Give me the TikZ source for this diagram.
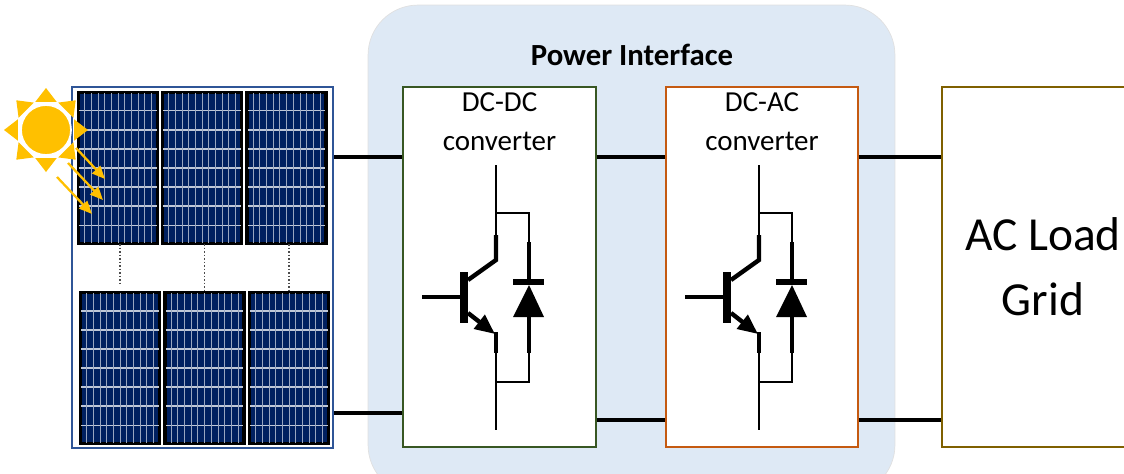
\documentclass[tikz,border=0pt]{standalone}
\usepackage{fontspec}
\setmainfont{Carlito}
\usetikzlibrary{arrows.meta, positioning, calc}
\definecolor{piblue}{RGB}{222,233,245}
\definecolor{frameblue}{RGB}{47,85,151}
\definecolor{cellnavy}{RGB}{0,32,96}
\definecolor{sunyellow}{RGB}{255,192,0}
\definecolor{dcdcgreen}{RGB}{56,87,35}
\definecolor{dcacorange}{RGB}{197,90,17}
\definecolor{loadgold}{RGB}{127,96,0}

% switch symbol: transistor with its free-wheeling diode
\tikzset{
  leg/.style={line width=1.5pt},
  lead/.style={line width=2.5pt},
  igbt/.pic={
    \draw[leg] (0,0) -- (0,70) (0,48) -| (33,77) (33,188) -- (33,217) -- (0,217) (0,188) -- (0,265);
    \draw[lead] (0,70) -- (0,95) -- (-28,115);
    \draw[lead] (33,77) -- (33,117);
    \fill (33,120) -- (48,152) -- (17,152) -- cycle;
    \draw[lead] (33,152) -- (33,188);
    \draw[line width=3.4pt] (17,117) -- (48,117);
    \draw[line width=4.6pt] (-32,107) -- (-32,158);
    \draw[lead] (-74,132) -- (-32,132);
    \draw[lead, -{Triangle[length=0.4cm, width=0.34cm]}] (-28,148) -- (-1,169);
    \draw[lead] (0,167) -- (0,188);
  }
}

\begin{document}
\begin{tikzpicture}[
  x=0.02cm, y=-0.02cm,
  block/.style={draw, line width=0.8pt, fill=white, minimum width=3.86cm, minimum height=7.2cm, inner sep=0pt},
  module/.style={draw=black, line width=1.2pt, fill=cellnavy, minimum width=1.56cm, minimum height=3cm, inner sep=0pt},
  cellgap/.style={white!75!cellnavy, line width=0.6pt},
  busbar/.style={white!60!cellnavy, line width=0.4pt},
  wire/.style={line width=1.8pt},
  linkdots/.style={densely dotted, line width=1pt, black!70},
  sunray/.style={draw=sunyellow, line width=1.3pt, -{Triangle[length=0.26cm, width=0.22cm]}},
  convlabel/.style={inner sep=0pt, align=center, font=\fontsize{16.5}{22}\selectfont}
]
\clip (0,0) rectangle (1124,473);

% power interface background
\node[draw=black!12, fill=piblue, rounded corners=1cm, minimum width=10.54cm, minimum height=9.8cm] (pi) at (631.5,250) {};
\node[font=\bfseries\fontsize{17.5}{21}\selectfont] (pititle) at (632,55) {Power Interface};

% PV array
\node[draw=frameblue, line width=1.2pt, fill=white, minimum width=5.22cm, minimum height=7.22cm] (pv) at (202.5,267.5) {};
\node[module] (m1) at (118,168) {};
\node[module] (m2) at (202,168) {};
\node[module] (m3) at (286.5,168) {};
\node[module] (m4) at (120,368) {};
\node[module] (m5) at (204.5,368) {};
\node[module] (m6) at (289,368) {};
\foreach \i in {1,...,6}{
  \foreach \k in {1,...,7}
    \draw[cellgap] ($(m\i.north west)!\k/8!(m\i.south west)$) -- ($(m\i.north east)!\k/8!(m\i.south east)$);
  \foreach \k in {1,...,11}
    \draw[busbar] ($(m\i.north west)!\k/12!(m\i.north east)$) -- ($(m\i.south west)!\k/12!(m\i.south east)$);
  \draw[black, line width=1.2pt] (m\i.north west) rectangle (m\i.south east);
}
\draw[linkdots] (m4.north |- m1.south) -- ([yshift=0.14cm]m4.north);
\draw[linkdots] (m5.north |- m2.south) -- (m5.north);
\draw[linkdots] (m6.north |- m3.south) -- (m6.north);

% sun
\coordinate (sunc) at (46,130);
\foreach \a in {0,45,...,315}
  \fill[sunyellow] ($(sunc)+(\a-21:30)$) -- ($(sunc)+(\a:42)$) -- ($(sunc)+(\a+21:30)$) -- cycle;
\node[circle, fill=sunyellow, draw=white, line width=1pt, minimum size=1.0cm, inner sep=0pt] (sun) at (sunc) {};
\coordinate (r1a) at (76,148); \coordinate (r1b) at (105,179);
\coordinate (r2a) at (68,163); \coordinate (r2b) at (103,200);
\coordinate (r3a) at (57,177); \coordinate (r3b) at (92,214);
\draw[sunray] (r1a) -- (r1b);
\draw[sunray] (r2a) -- (r2b);
\draw[sunray] (r3a) -- (r3b);

% converters and load
\node[block, draw=dcdcgreen] (dcdc) at (499.5,267) {};
\node[block, draw=dcacorange, minimum width=3.84cm] (dcac) at (762,267) {};
\node[block, draw=loadgold, minimum width=4.04cm, align=center, font=\fontsize{27}{37}\selectfont] (load) at (1043,267) {AC Load\\Grid};
\node[convlabel, below=0.12cm of dcdc.north] (dcdclbl) {DC-DC\\converter};
\node[convlabel, below=0.12cm of dcac.north] (dcaclbl) {DC-AC\\converter};
\pic at (496,165) {igbt};
\pic at (759,165) {igbt};

% buses
\coordinate (topbus) at (0,157);
\coordinate (pvlow) at (0,413);
\coordinate (lowbus) at (0,420);
\draw[wire] (pv.east |- topbus) -- (dcdc.west |- topbus);
\draw[wire] (dcdc.east |- topbus) -- (dcac.west |- topbus);
\draw[wire] (dcac.east |- topbus) -- (load.west |- topbus);
\draw[wire] (pv.east |- pvlow) -- (dcdc.west |- pvlow);
\draw[wire] (dcdc.east |- lowbus) -- (dcac.west |- lowbus);
\draw[wire] (dcac.east |- lowbus) -- (load.west |- lowbus);
\end{tikzpicture}
\end{document}
